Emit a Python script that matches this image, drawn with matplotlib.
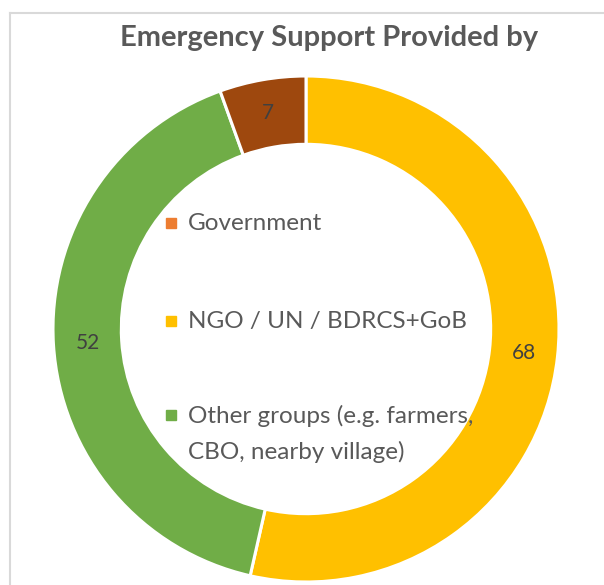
import matplotlib
matplotlib.use("Agg")
import matplotlib.pyplot as plt
from matplotlib.lines import Line2D
from matplotlib.patches import Rectangle

# data (drawn clockwise from 12 o'clock)
categories = ["NGO / UN / BDRCS+GoB", "Other groups (e.g. farmers,\nCBO, nearby village)", "Government"]
values = [68, 52, 7]
slice_colors = ["#FFC000", "#70AD47", "#9E480E"]

# legend as shown in the chart (Government marker is orange in the original)
legend_labels = ["Government", "NGO / UN / BDRCS+GoB", "Other groups (e.g. farmers,\nCBO, nearby village)"]
legend_colors = ["#ED7D31", "#FFC000", "#70AD47"]

plt.rcParams['font.family'] = ['Lato', 'DejaVu Sans']

W, H = 604, 585
fig = plt.figure(figsize=(W / 100, H / 100), dpi=100)

# donut axes: center (306, 329) px, outer radius 253 px
cx, cy, R = 306, 329, 253
ax = fig.add_axes([(cx - R) / W, (H - cy - R) / H, 2 * R / W, 2 * R / H])
wedges, texts, autotexts = ax.pie(
    values, colors=slice_colors, startangle=90, counterclock=False,
    radius=1.0, wedgeprops=dict(width=0.27, edgecolor="white", linewidth=2.2),
    autopct=lambda p: "%d" % round(p * sum(values) / 100.0),
    pctdistance=0.865, textprops=dict(color="#404040", fontsize=15))
ax.set_xlim(-1, 1)
ax.set_ylim(-1, 1)
ax.set_aspect("equal")
ax.axis("off")

# chart border
fig.add_artist(Line2D([10 / W, 10 / W], [0, 1 - 13 / H], color="#D9D9D9", lw=1.5))
fig.add_artist(Line2D([10 / W, 1], [1 - 13 / H, 1 - 13 / H], color="#D9D9D9", lw=1.5))

# title
fig.text(329 / W, 1 - 38 / H, "Emergency Support Provided by", ha="center", va="center",
         fontsize=21, fontweight="bold", color="#595959")

# legend inside the hole
ys = [223, 321, 415]
for lab, col, y in zip(legend_labels, legend_colors, ys):
    fig.add_artist(Rectangle((166 / W, 1 - (y + 5) / H), 10 / W, 10 / H, color=col,
                             transform=fig.transFigure))
    fig.text(188 / W, 1 - (y - 10) / H, lab, ha="left", va="top", fontsize=17.5,
             color="#595959", linespacing=1.75)

fig.savefig("out.png", dpi=100)
